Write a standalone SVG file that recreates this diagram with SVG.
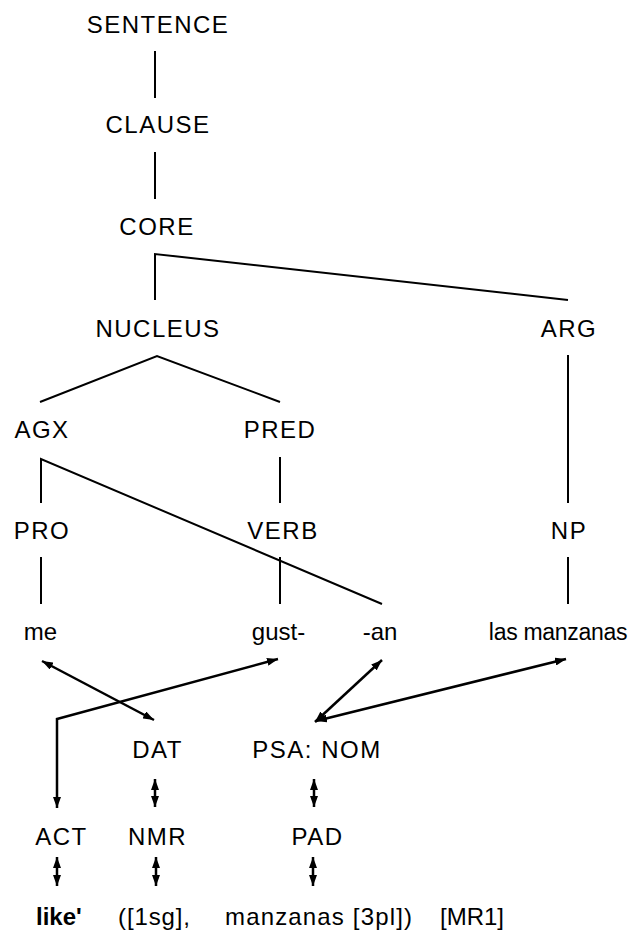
<svg xmlns="http://www.w3.org/2000/svg" width="632" height="932" viewBox="0 0 632 932">
<style>
text{font-family:"Liberation Sans",Arial,Helvetica,sans-serif;font-size:24px;fill:#000}
.c{text-anchor:middle;letter-spacing:1.5px}
.l{text-anchor:middle}
.s{text-anchor:start}
.b{font-weight:bold}
.n{font-size:23px;letter-spacing:-0.3px}
.t{stroke:#000;stroke-width:2;fill:none}
.a{stroke:#000;stroke-width:2.5;fill:none;marker-start:url(#ah);marker-end:url(#ah)}
</style>
<defs>
<marker id="ah" viewBox="0 0 11 8" refX="11" refY="4" markerWidth="11" markerHeight="8" markerUnits="userSpaceOnUse" orient="auto-start-reverse">
<path d="M0,0 L11,4 L0,8 z" fill="#000"/>
</marker>
</defs>
<rect width="632" height="932" fill="#fff"/>
<g id="connectors">
<line class="t" x1="155" y1="51" x2="155" y2="98"/>
<line class="t" x1="155" y1="152" x2="155" y2="199"/>
<polyline class="t" points="155,300 155,254 568,300"/>
<polyline class="t" points="40,402 157,356 280,402"/>
<polyline class="t" points="41,503 41,459 382,604"/>
<line class="t" x1="280" y1="457" x2="280" y2="503"/>
<line class="t" x1="568" y1="355" x2="568" y2="503"/>
<line class="t" x1="41" y1="557" x2="41" y2="604"/>
<line class="t" x1="280" y1="557" x2="280" y2="604"/>
<line class="t" x1="568" y1="557" x2="568" y2="604"/>
<line class="a" x1="42" y1="661" x2="154" y2="720"/>
<polyline class="a" points="278,659 57,719 57,808"/>
<line class="a" x1="382" y1="660" x2="315" y2="722"/>
<line class="a" x1="566" y1="659" x2="316" y2="721"/>
<line class="a" x1="155" y1="779" x2="155" y2="807"/>
<line class="a" x1="314" y1="779" x2="314" y2="807"/>
<line class="a" x1="57" y1="857" x2="57" y2="886"/>
<line class="a" x1="156" y1="857" x2="156" y2="886"/>
<line class="a" x1="313" y1="857" x2="313" y2="886"/>
</g>
<g id="sentence"><text class="c" x="158" y="32.5">SENTENCE</text></g>
<g id="clause"><text class="c" x="158" y="133">CLAUSE</text></g>
<g id="core"><text class="c" x="157" y="234.5">CORE</text></g>
<g id="nucleus"><text class="c" x="158" y="336.5">NUCLEUS</text></g>
<g id="arg"><text class="c" x="569" y="336.5">ARG</text></g>
<g id="agx"><text class="c" x="42" y="438">AGX</text></g>
<g id="pred"><text class="c" x="280" y="438">PRED</text></g>
<g id="pro"><text class="c" x="42" y="538.5">PRO</text></g>
<g id="verb"><text class="c" x="283" y="538.5">VERB</text></g>
<g id="np"><text class="c" x="569" y="538.5">NP</text></g>
<g id="me"><text class="l" x="40.5" y="640">me</text></g>
<g id="gust"><text class="l" x="278.5" y="640">gust-</text></g>
<g id="an"><text class="l" x="380" y="640">-an</text></g>
<g id="las-manzanas"><text class="l n" x="558" y="640">las manzanas</text></g>
<g id="dat"><text class="c" x="157.5" y="758">DAT</text></g>
<g id="psa-nom"><text class="c" x="317" y="758">PSA: NOM</text></g>
<g id="act"><text class="c" x="61.5" y="845">ACT</text></g>
<g id="nmr"><text class="c" x="157.5" y="845">NMR</text></g>
<g id="pad"><text class="c" x="317.5" y="845">PAD</text></g>
<g id="like"><text class="s b" x="36" y="925">like'</text></g>
<g id="arg1"><text class="s" x="118" y="925" textLength="72" lengthAdjust="spacing">([1sg],</text></g>
<g id="arg2"><text class="s" x="225" y="925" textLength="187" lengthAdjust="spacing">manzanas [3pl])</text></g>
<g id="mr1"><text class="s" x="440" y="925">[MR1]</text></g>
</svg>
